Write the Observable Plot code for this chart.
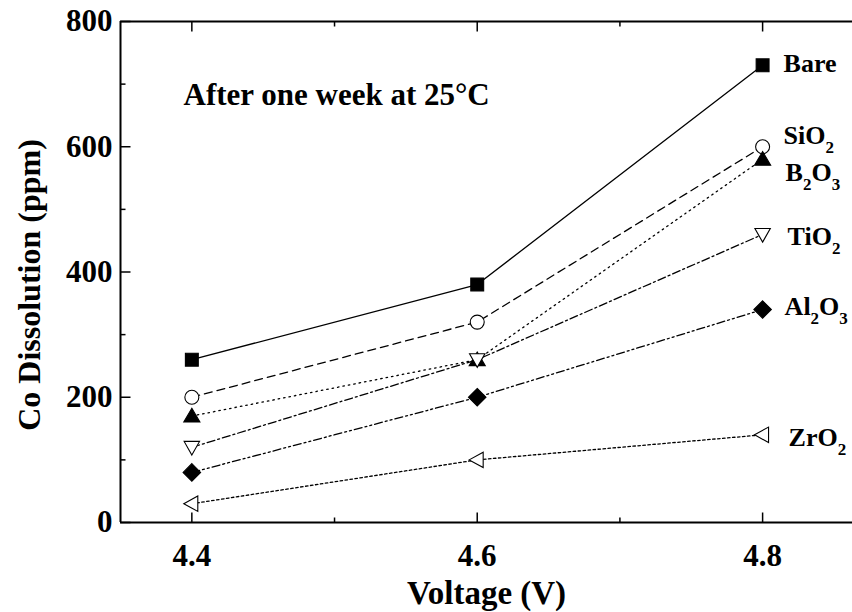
<!DOCTYPE html>
<html>
<head>
<meta charset="utf-8">
<script src="https://cdn.jsdelivr.net/npm/d3@7"></script>
<script src="https://cdn.jsdelivr.net/npm/@observablehq/plot@0.6"></script>
<style>
  html, body { margin: 0; padding: 0; background: #fff; }
  #chart svg { display: block; }
</style>
</head>
<body>
<div id="chart"></div>
<script>
// ---- data ----
const voltages = [4.4, 4.6, 4.8];
const seriesNames = ["Bare", "SiO2", "B2O3", "TiO2", "Al2O3", "ZrO2"];
const bare  = [260, 380, 730];
const sio2  = [200, 320, 600];
const b2o3  = [170, 260, 580];
const tio2  = [120, 260, 460];
const al2o3 = [80, 200, 340];
const zro2  = [30, 100, 140];
const xTicksMajor = [4.4, 4.6, 4.8];
const xTicksMinor = [4.5, 4.7];
const yTicksMajor = [0, 200, 400, 600, 800];
const yTicksMinor = [100, 300, 500, 700];
const annotation = "After one week at 25°C";
const xTitle = "Voltage (V)";
const yTitle = "Co Dissolution (ppm)";

// ---- custom symbols ----
function poly(pts) {
  return { draw(ctx, size) {
    const r = Math.sqrt(size / Math.PI);
    ctx.moveTo(pts[0][0] * r, pts[0][1] * r);
    for (let i = 1; i < pts.length; i++) ctx.lineTo(pts[i][0] * r, pts[i][1] * r);
    ctx.closePath();
  }};
}
const symSquare = poly([[-0.92, -0.92], [0.92, -0.92], [0.92, 0.92], [-0.92, 0.92]]);
const symCircle = { draw(ctx, size) { const r = Math.sqrt(size / Math.PI); ctx.moveTo(r, 0); ctx.arc(0, 0, r, 0, 2 * Math.PI); } };
const symUp = poly([[0, -1.1], [1.15, 0.85], [-1.15, 0.85]]);
const symDown = poly([[0, 1.1], [1.1, -0.85], [-1.1, -0.85]]);
const symLeft = poly([[-1.15, 0], [0.85, -1.1], [0.85, 1.1]]);
const symDiamond = poly([[0, -1.25], [1.25, 0], [0, 1.25], [-1.25, 0]]);
function tickSym(dx, dy) {
  return { draw(ctx) { ctx.moveTo(0, 0); ctx.lineTo(dx, dy); } };
}

// ---- series styles ----
const values = [bare, sio2, b2o3, tio2, al2o3, zro2];
const styles = [
  { symbol: symSquare,  fill: "black", dash: null,           lx: 21, ly: -2 },
  { symbol: symCircle,  fill: "white", dash: "8,5",          lx: 21, ly: -11 },
  { symbol: symUp,      fill: "black", dash: "1.5,4",        lx: 23, ly: 13 },
  { symbol: symDown,    fill: "white", dash: "8,3,2,3",      lx: 25, ly: 2 },
  { symbol: symDiamond, fill: "black", dash: "8,3,2,3,2,3",  lx: 22, ly: -3 },
  { symbol: symLeft,    fill: "white", dash: "2.5,2.5",      lx: 26, ly: 3 }
];

const marks = [];
seriesNames.forEach((name, s) => {
  const rows = voltages.map((v, i) => ({ v, c: values[s][i] }));
  const st = styles[s];
  marks.push(Plot.line(rows, { x: "v", y: "c", stroke: "black", strokeWidth: 1.3, strokeDasharray: st.dash }));
});
seriesNames.forEach((name, s) => {
  const rows = voltages.map((v, i) => ({ v, c: values[s][i] }));
  const st = styles[s];
  marks.push(Plot.dot(rows, { x: "v", y: "c", r: 7, symbol: st.symbol, fill: st.fill, stroke: "black", strokeWidth: 1.1 }));
  const last = rows[rows.length - 1];
  marks.push(Plot.text([last], { x: "v", y: "c", text: () => name, textAnchor: "start", lineAnchor: "middle",
    dx: st.lx, dy: st.ly, fontSize: 26, fontWeight: "bold", className: "series-label" }));
});

// axes lines
marks.push(Plot.ruleY([0], { stroke: "black", strokeWidth: 2 }));
marks.push(Plot.ruleY([800], { stroke: "black", strokeWidth: 2 }));
marks.push(Plot.ruleX([4.35], { stroke: "black", strokeWidth: 2 }));
// ticks (inward)
marks.push(Plot.dot(xTicksMajor, { x: d => d, frameAnchor: "bottom", symbol: tickSym(0, -10), stroke: "black", strokeWidth: 1.5 }));
marks.push(Plot.dot(xTicksMinor, { x: d => d, frameAnchor: "bottom", symbol: tickSym(0, -5), stroke: "black", strokeWidth: 1.5 }));
marks.push(Plot.dot(xTicksMajor, { x: d => d, frameAnchor: "top", symbol: tickSym(0, 10), stroke: "black", strokeWidth: 1.5 }));
marks.push(Plot.dot(xTicksMinor, { x: d => d, frameAnchor: "top", symbol: tickSym(0, 5), stroke: "black", strokeWidth: 1.5 }));
marks.push(Plot.dot(yTicksMajor, { y: d => d, frameAnchor: "left", symbol: tickSym(10, 0), stroke: "black", strokeWidth: 1.5 }));
marks.push(Plot.dot(yTicksMinor, { y: d => d, frameAnchor: "left", symbol: tickSym(5, 0), stroke: "black", strokeWidth: 1.5 }));
// tick labels
marks.push(Plot.text(xTicksMajor, { x: d => d, frameAnchor: "bottom", text: d => d.toFixed(1), dy: 34, textAnchor: "middle", lineAnchor: "middle", fontSize: 31, fontWeight: "bold" }));
marks.push(Plot.text(yTicksMajor, { y: d => d, frameAnchor: "left", text: d => String(d), dx: -8, textAnchor: "end", lineAnchor: "middle", fontSize: 31, fontWeight: "bold" }));
// titles
marks.push(Plot.text([xTitle], { frameAnchor: "bottom", text: d => d, dy: 71, textAnchor: "middle", lineAnchor: "middle", fontSize: 33, fontWeight: "bold" }));
marks.push(Plot.text([yTitle], { frameAnchor: "left", text: d => d, dx: -91, dy: 13, rotate: -90, textAnchor: "middle", lineAnchor: "middle", fontSize: 32, fontWeight: "bold" }));
marks.push(Plot.text([annotation], { frameAnchor: "top-left", text: d => d, dx: 63, dy: 61, textAnchor: "start", lineAnchor: "top", fontSize: 31, fontWeight: "bold" }));

const chart = Plot.plot({
  width: 852,
  height: 612,
  marginLeft: 120,
  marginRight: 0,
  marginTop: 21,
  marginBottom: 90,
  x: { domain: [4.35, 4.863], axis: null },
  y: { domain: [0, 800], axis: null },
  style: { fontFamily: "'Liberation Serif', 'Times New Roman', serif", background: "white", color: "black" },
  marks
});

// subscripts for chemical formulas
chart.querySelectorAll("g.series-label text").forEach(t => {
  const s = t.textContent;
  t.textContent = "";
  let shifted = false;
  for (const ch of s) {
    const ts = document.createElementNS("http://www.w3.org/2000/svg", "tspan");
    if (/\d/.test(ch)) {
      ts.setAttribute("font-size", "17");
      if (!shifted) { ts.setAttribute("dy", "9"); shifted = true; }
    } else if (shifted) {
      ts.setAttribute("dy", "-9"); shifted = false;
    }
    ts.textContent = ch;
    t.appendChild(ts);
  }
});

document.getElementById("chart").appendChild(chart);
</script>
</body>
</html>
